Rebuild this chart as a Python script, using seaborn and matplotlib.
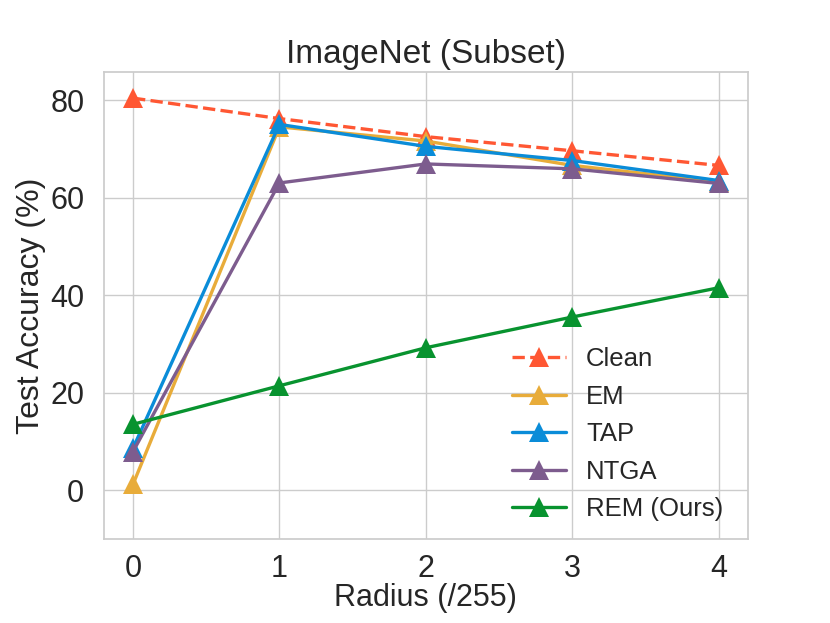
import pandas as pd
import matplotlib.pyplot as plt
import seaborn as sns

# Values
radius = [0, 1, 2, 3, 4]
clean = [80.4, 76.2, 72.5, 69.6, 66.6]
em = [1.2, 74.5, 71.6, 66.6, 63.2]
tap = [8.6, 75.0, 70.5, 67.6, 63.5]
ntga = [7.9, 63.0, 66.9, 65.9, 62.9]
rem = [13.5, 21.4, 29.2, 35.5, 41.5]

methods = ["Clean", "EM", "TAP", "NTGA", "REM (Ours)"]
colors = ["#FF5733", "#E8AC3A", "#0A8CD8", "#7D5C8E", "#08932F"]

df = pd.DataFrame({"radius": radius * 5,
                   "acc": clean + em + tap + ntga + rem,
                   "method": sum([[m] * 5 for m in methods], [])})

sns.set_theme(style="whitegrid")
plt.rcParams['font.family'] = ['Liberation Sans', 'DejaVu Sans']

fig, ax = plt.subplots(figsize=(8.3, 6.23), dpi=100)
fig.subplots_adjust(left=0.125, right=0.901, top=0.884, bottom=0.135)

for m, c in zip(methods, colors):
    sub = df[df["method"] == m]
    sns.lineplot(data=sub, x="radius", y="acc", ax=ax, color=c, label=m,
                 marker="^", markersize=14.5, markeredgewidth=0, linewidth=2.4,
                 linestyle="--" if m == "Clean" else "-")

ax.set_xlim(-0.2, 4.2)
ax.set_ylim(-10, 85.7)
ax.set_xticks(radius)
ax.set_yticks([0, 20, 40, 60, 80])
ax.tick_params(labelsize=22, length=0, pad=14)
ax.tick_params(axis="x", pad=11)
ax.set_title("ImageNet (Subset)", fontsize=24, pad=7)
ax.set_xlabel("Radius (/255)", fontsize=22, labelpad=-1)
ax.set_ylabel("Test Accuracy (%)", fontsize=23, labelpad=3)
ax.legend(loc="lower right", bbox_to_anchor=(1.0, -0.015), frameon=False,
          fontsize=18.5, handlelength=2.1, borderaxespad=0.55, labelspacing=0.53)

fig.savefig("out.png")
